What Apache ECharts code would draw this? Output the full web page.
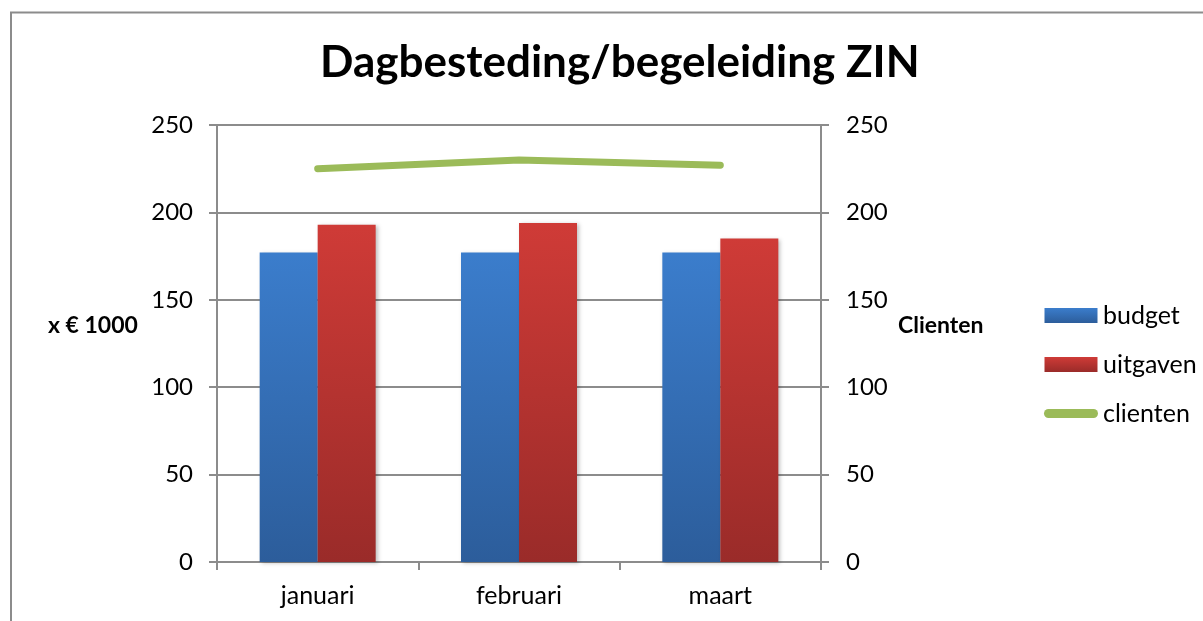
<!DOCTYPE html>
<html>
<head>
<meta charset="utf-8">
<script src="https://cdn.jsdelivr.net/npm/echarts@6/dist/echarts.min.js"></script>
<style>html,body{margin:0;padding:0;background:#fff}#c{width:1203px;height:621px}</style>
</head>
<body>
<div id="c"></div>
<script>
const categories = ['januari', 'februari', 'maart'];
const budget = [177, 177, 177];
const uitgaven = [193, 194, 185];
const clienten = [225, 230, 227];
const yTicks = { min: 0, max: 250, interval: 50 };

const FONT = 'Lato';
const GRAY = '#8c8c8c';
const chart = echarts.init(document.getElementById('c'), null, { renderer: 'canvas' });

const blue = new echarts.graphic.LinearGradient(0, 0, 0, 1, [
  { offset: 0, color: '#3b7dcc' }, { offset: 1, color: '#2c5d9b' }]);
const red = new echarts.graphic.LinearGradient(0, 0, 0, 1, [
  { offset: 0, color: '#cf3b37' }, { offset: 1, color: '#9a2b29' }]);

chart.setOption({
  animation: false,
  backgroundColor: '#fff',
  title: {
    text: 'Dagbesteding/begeleiding ZIN',
    left: 315, top: 36,
    textStyle: { fontFamily: FONT, fontWeight: 'bold', fontSize: 44, color: '#000' }
  },
  grid: { left: 217, right: 382, top: 125, bottom: 59 },
  legend: {
    orient: 'vertical', left: 1039, top: 298,
    itemWidth: 54, itemHeight: 15, itemGap: 24,
    textStyle: { fontFamily: FONT, fontSize: 25, color: '#000', lineHeight: 25 },
    data: [
      { name: 'budget', icon: 'path://M0,0H53V15H0Z' },
      { name: 'uitgaven', icon: 'path://M0,0H53V15H0Z' },
      { name: 'clienten', icon: 'path://M5,0H55A5,5 0 0 1 55,10H5A5,5 0 0 1 5,0Z', itemStyle: { color: '#9bbb59' }, lineStyle: { width: 10, color: '#9bbb59', cap: 'round' } }
    ]
  },
  graphic: [
    { type: 'polyline', shape: { points: [[11, 621], [11, 12.5], [1203, 12.5]] }, style: { stroke: GRAY, lineWidth: 2, fill: null } },
    { type: 'text', left: 48, top: 314, style: { text: 'x € 1000', font: 'bold 23px ' + FONT, fill: '#000' } },
    { type: 'text', left: 898, top: 314, style: { text: 'Clienten', font: 'bold 23px ' + FONT, fill: '#000' } }
  ],
  xAxis: {
    type: 'category', data: categories, boundaryGap: true,
    axisLine: { lineStyle: { color: GRAY, width: 2 } },
    axisTick: { show: true, interval: 0, length: 8, lineStyle: { color: GRAY, width: 2 } },
    axisLabel: { fontFamily: FONT, fontSize: 25, color: '#000', margin: 21 }
  },
  yAxis: [
    {
      type: 'value', min: yTicks.min, max: yTicks.max, interval: yTicks.interval,
      axisLine: { show: true, lineStyle: { color: GRAY, width: 2 } },
      axisTick: { show: true, length: 8, lineStyle: { color: GRAY, width: 2 } },
      axisLabel: { fontFamily: FONT, fontSize: 24, color: '#000', margin: 24 },
      splitLine: { show: true, lineStyle: { color: GRAY, width: 2 } }
    },
    {
      type: 'value', min: yTicks.min, max: yTicks.max, interval: yTicks.interval, position: 'right',
      axisLine: { show: true, lineStyle: { color: GRAY, width: 2 } },
      axisTick: { show: true, length: 8, lineStyle: { color: GRAY, width: 2 } },
      axisLabel: { fontFamily: FONT, fontSize: 24, color: '#000', margin: 25 },
      splitLine: { show: false }
    }
  ],
  series: [
    {
      name: 'budget', type: 'bar', data: budget, barWidth: 58, barGap: '0%',
      itemStyle: { color: blue, shadowBlur: 4, shadowColor: 'rgba(0,0,0,0.25)', shadowOffsetX: 2, shadowOffsetY: 1 }
    },
    {
      name: 'uitgaven', type: 'bar', data: uitgaven, barWidth: 58, barGap: '0%',
      itemStyle: { color: red, shadowBlur: 4, shadowColor: 'rgba(0,0,0,0.25)', shadowOffsetX: 2, shadowOffsetY: 1 }
    },
    {
      name: 'clienten', type: 'line', yAxisIndex: 1, data: clienten,
      symbol: 'none', smooth: false,
      lineStyle: { color: '#9bbb59', width: 7, cap: 'round', join: 'round' },
      itemStyle: { color: '#9bbb59' }
    }
  ]
});
</script>
</body>
</html>
